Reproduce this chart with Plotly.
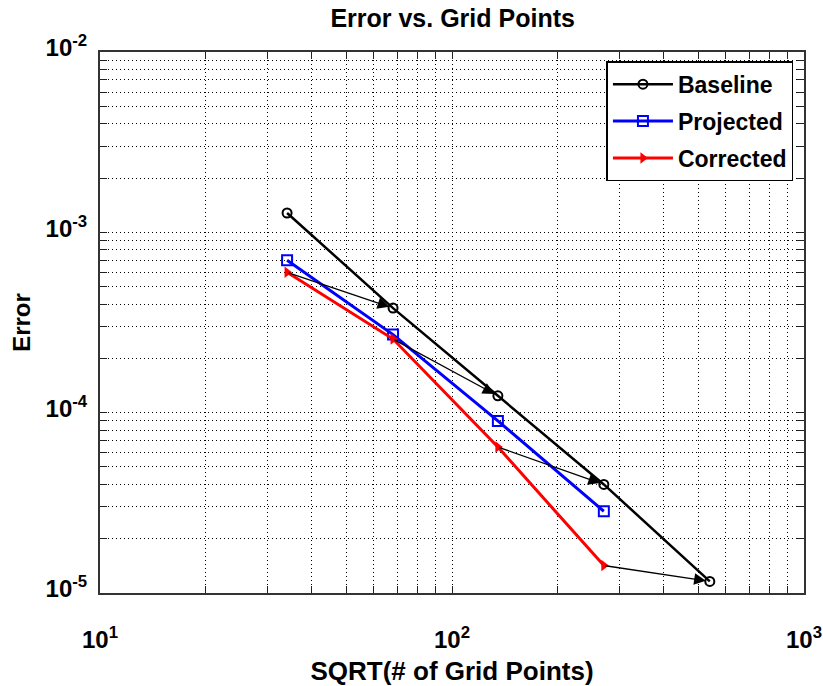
import numpy as np
import plotly.graph_objects as go

# Convergence study: error against sqrt(number of grid points)
grid_sqrt = [34, 68, 135, 270, 540]
baseline_err = [1.28e-3, 3.8e-4, 1.24e-4, 4.0e-5, 1.16e-5]
projected_err = [7.0e-4, 2.71e-4, 9.0e-5, 2.84e-5]
corrected_err = [6.0e-4, 2.56e-4, 6.45e-5, 1.42e-5]

x_decades = [10, 100, 1000]
x_decade_text = ["10<sup>1</sup>", "10<sup>2</sup>", "10<sup>3</sup>"]
y_decades = [1e-5, 1e-4, 1e-3, 1e-2]
y_decade_text = ["10<sup>-5</sup>", "10<sup>-4</sup>", "10<sup>-3</sup>", "10<sup>-2</sup>"]

FONT = "Liberation Sans, Arial, Helvetica, sans-serif"


def log_ticks(decades, labels):
    vals, text = [], []
    for i, d in enumerate(decades):
        vals.append(d)
        text.append(labels[i])
        if i < len(decades) - 1:
            for m in range(2, 10):
                vals.append(d * m)
                text.append("")
    return vals, text


xv, xt = log_ticks(x_decades, x_decade_text)
yv, yt = log_ticks(y_decades, y_decade_text)

fig = go.Figure()

fig.add_trace(go.Scatter(
    x=grid_sqrt, y=baseline_err, name="Baseline", mode="lines+markers",
    line=dict(color="black", width=2.5),
    marker=dict(symbol="circle-open", size=9, color="black", line=dict(width=2)),
    legendgroup="a",
))
fig.add_trace(go.Scatter(
    x=grid_sqrt[:len(projected_err)], y=projected_err, name="Projected",
    mode="lines+markers",
    line=dict(color="#0000ff", width=3),
    marker=dict(symbol="square-open", size=10, color="#0000ff", line=dict(width=2)),
    legendgroup="b",
))
fig.add_trace(go.Scatter(
    x=grid_sqrt[:len(corrected_err)], y=corrected_err, name="Corrected",
    mode="lines+markers",
    line=dict(color="#ff0000", width=3),
    marker=dict(symbol="triangle-right", size=10, color="#ff0000"),
    legendgroup="c",
))

# Arrows from each corrected result to the baseline on the next finer grid
for i in range(len(corrected_err)):
    fig.add_annotation(
        x=np.log10(grid_sqrt[i + 1]), y=np.log10(baseline_err[i + 1]),
        ax=np.log10(grid_sqrt[i]), ay=np.log10(corrected_err[i]),
        xref="x", yref="y", axref="x", ayref="y",
        text="", showarrow=True, arrowhead=2, arrowsize=1.8,
        arrowwidth=1.3, arrowcolor="black", standoff=4,
    )

axis_common = dict(
    type="log",
    tickmode="array",
    ticks="inside",
    ticklen=7,
    tickwidth=1,
    tickcolor="#222",
    showline=True,
    linecolor="#333",
    linewidth=2,
    mirror="allticks",
    showgrid=True,
    gridcolor="black",
    gridwidth=1,
    griddash="1px,3px",
    zeroline=False,
    automargin=False,
    tickfont=dict(family=FONT, size=24, color="black", weight="bold"),
)

fig.update_xaxes(
    **axis_common,
    range=[1, 3],
    tickvals=xv, ticktext=xt,
    ticklabelstandoff=24,
    title=dict(text="SQRT(# of Grid Points)", standoff=20,
               font=dict(family=FONT, size=26, color="black", weight="bold")),
)
fig.update_yaxes(
    **axis_common,
    range=[-5, -2],
    tickvals=yv, ticktext=yt,
    ticklabelstandoff=6,
    ticklabelshift=-4,
    title=dict(text="Error", standoff=8,
               font=dict(family=FONT, size=24, color="black", weight="bold")),
)

fig.update_layout(
    width=823, height=686,
    margin=dict(l=100, r=19, t=52, b=93),
    paper_bgcolor="white",
    plot_bgcolor="white",
    title=dict(text="Error vs. Grid Points", x=0.55, xanchor="center",
               y=1 - 18 / 686, yanchor="middle", yref="container",
               font=dict(family=FONT, size=25, color="black", weight="bold")),
    legend=dict(
        x=0.985, y=0.983, xanchor="right", yanchor="top",
        bgcolor="white", bordercolor="black", borderwidth=1.5,
        font=dict(family=FONT, size=23, color="black", weight="bold"),
        tracegroupgap=4, traceorder="grouped", itemwidth=60,
    ),
    showlegend=True,
)

fig.write_html("out.html")
